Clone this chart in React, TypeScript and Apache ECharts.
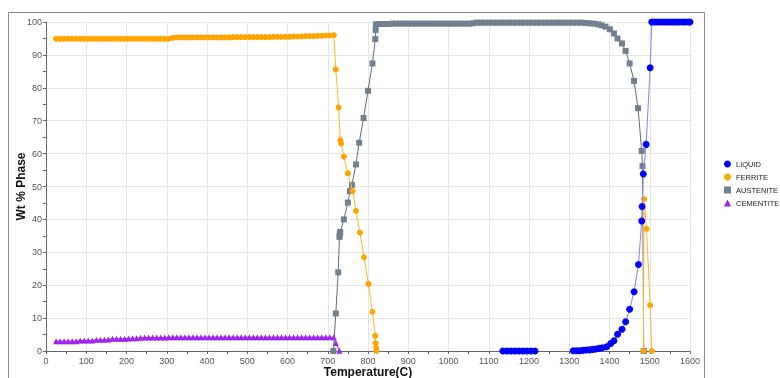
import React, { useEffect, useRef } from "react";
import * as echarts from "echarts";

const seriesNames = ["LIQUID", "FERRITE", "AUSTENITE", "CEMENTITE"];

const liquid: any[] = [
  [1135, 0], [1145, 0], [1155, 0], [1165, 0], [1175, 0], [1185, 0], [1195, 0], [1205, 0], [1215, 0],
  "-",
  [1310, 0.1], [1318, 0.1], [1326, 0.1], [1334, 0.2], [1342, 0.3], [1350, 0.4], [1358, 0.5], [1366, 0.6],
  [1374, 0.8], [1382, 1.0], [1393, 1.3], [1403, 2.3], [1411, 3.1], [1420, 5.1], [1431, 6.6], [1440, 8.9],
  [1450, 12.7], [1461, 18.0], [1472, 26.3], [1480, 39.5], [1481, 43.9], [1484, 53.8], [1491, 62.8],
  [1501, 86.1], [1505, 100], [1512, 100], [1520, 100], [1527, 100], [1535, 100], [1542, 100], [1550, 100],
  [1557, 100], [1565, 100], [1572, 100], [1580, 100], [1587, 100], [1595, 100], [1600, 100],
];

const ferrite: any[] = [
  [25, 94.9], [35, 94.9], [45, 94.9], [55, 94.9], [65, 94.9], [75, 94.9], [85, 94.9], [95, 94.9],
  [105, 94.9], [115, 94.9], [125, 94.9], [135, 94.9], [145, 94.9], [155, 94.9], [165, 94.9], [175, 94.9],
  [185, 94.9], [195, 94.9], [205, 94.9], [215, 94.9], [225, 94.9], [235, 94.9], [245, 94.9], [255, 94.9],
  [265, 94.9], [275, 94.9], [285, 94.9], [295, 94.9], [305, 94.9], [315, 95.2], [325, 95.3], [335, 95.3],
  [345, 95.3], [355, 95.3], [365, 95.3], [375, 95.3], [385, 95.3], [395, 95.3], [405, 95.3], [415, 95.3],
  [425, 95.3], [435, 95.3], [445, 95.3], [455, 95.3], [465, 95.4], [475, 95.4], [485, 95.4], [495, 95.4],
  [505, 95.4], [515, 95.4], [525, 95.4], [535, 95.4], [545, 95.4], [555, 95.4], [565, 95.5], [575, 95.5],
  [585, 95.5], [595, 95.5], [605, 95.5], [615, 95.6], [625, 95.6], [635, 95.6], [645, 95.7], [655, 95.7],
  [665, 95.7], [675, 95.8], [685, 95.8], [695, 95.9], [705, 95.9], [715, 96.0],
  [720, 85.6], [727, 74.0], [731, 64.1], [733, 63.1], [740, 59.1], [750, 54.0], [762, 48.6], [770, 42.6],
  [780, 36.0], [790, 28.5], [801, 20.4], [811, 11.9], [818, 4.6], [819, 2.4], [820, 1.0], [821, 0],
  "-",
  [1484, 0], [1486, 46.2], [1492, 37.1], [1501, 13.9], [1505, 0],
];

const austenite: any[] = [
  [714, 0], [720, 11.4], [726, 23.9], [729, 34.7], [730, 35.5], [731, 36.2], [740, 40.0], [750, 45.1],
  [755, 48.6], [760, 50.5], [770, 56.7], [778, 63.3], [789, 70.8], [800, 79.1], [811, 87.4], [818, 94.8],
  [819, 97.6], [820, 99.3], [830, 99.4], [840, 99.4], [850, 99.4], [860, 99.5], [870, 99.5], [880, 99.5],
  [890, 99.5], [900, 99.5], [910, 99.5], [920, 99.5], [930, 99.5], [940, 99.5], [950, 99.5], [960, 99.5],
  [970, 99.5], [980, 99.5], [990, 99.5], [1000, 99.5], [1010, 99.5], [1020, 99.5], [1030, 99.5], [1040, 99.5],
  [1050, 99.5], [1060, 99.6], [1070, 99.8], [1080, 99.8], [1090, 99.8], [1100, 99.8], [1110, 99.8], [1120, 99.8],
  [1130, 99.8], [1140, 99.8], [1150, 99.8], [1160, 99.8], [1170, 99.8], [1180, 99.8], [1190, 99.8], [1200, 99.8],
  [1210, 99.8], [1220, 99.8], [1230, 99.8], [1240, 99.8], [1250, 99.8], [1260, 99.8], [1270, 99.8], [1280, 99.8],
  [1290, 99.8], [1300, 99.8], [1310, 99.8], [1320, 99.8], [1330, 99.8], [1340, 99.7], [1350, 99.6], [1362, 99.5],
  [1372, 99.3], [1380, 99.0], [1390, 98.6], [1401, 97.8], [1411, 96.5], [1420, 95.0], [1431, 93.5], [1440, 91.2],
  [1450, 87.4], [1461, 82.1], [1471, 73.8], [1480, 60.8], [1482, 56.2], [1485, 0],
];

const cementite: any[] = [
  [25, 3.0], [35, 3.0], [45, 3.0], [55, 3.0], [65, 3.0], [75, 3.0], [85, 3.2], [95, 3.2],
  [105, 3.2], [115, 3.2], [125, 3.4], [135, 3.4], [145, 3.4], [155, 3.5], [165, 3.7], [175, 3.7],
  [185, 3.7], [195, 3.7], [205, 3.8], [215, 3.9], [225, 3.9], [235, 4.0], [245, 4.1], [255, 4.1],
  [265, 4.1], [275, 4.1], [285, 4.1], [295, 4.1], [305, 4.2], [315, 4.2], [325, 4.2], [335, 4.2],
  [345, 4.2], [355, 4.2], [365, 4.2], [375, 4.2], [385, 4.2], [395, 4.2], [405, 4.2], [415, 4.2],
  [425, 4.2], [435, 4.2], [445, 4.2], [455, 4.2], [465, 4.2], [475, 4.2], [485, 4.2], [495, 4.2],
  [505, 4.2], [515, 4.2], [525, 4.2], [535, 4.2], [545, 4.2], [555, 4.2], [565, 4.2], [575, 4.2],
  [585, 4.2], [595, 4.2], [605, 4.2], [615, 4.2], [625, 4.2], [635, 4.2], [645, 4.2], [655, 4.2],
  [665, 4.2], [675, 4.2], [685, 4.2], [695, 4.2], [705, 4.2], [715, 4.2],
  [720, 2.4], [729, 0.1],
];

const xMin = 0, xMax = 1600, xStep = 100;
const yMin = 0, yMax = 100, yStep = 10;

export default function App() {
  const ref = useRef<HTMLDivElement>(null);
  useEffect(() => {
    if (!ref.current) return;
    const chart = echarts.init(ref.current, undefined, { renderer: "svg" });
    const font = "Liberation Sans, Arial, sans-serif";
    const mk = (name: string, data: any[], color: string, lineColor: string, symbol: string, size: number, z: number) => ({
      name,
      type: "line",
      data,
      symbol,
      symbolSize: size,
      z,
      itemStyle: { color },
      lineStyle: { color: lineColor, width: 1 },
      connectNulls: false,
      emphasis: { disabled: true },
    });
    chart.setOption({
      animation: false,
      textStyle: { fontFamily: font },
      graphic: [
        {
          type: "rect",
          shape: { x: 8.5, y: 12.5, width: 696, height: 400 },
          style: { fill: "none", stroke: "#8a8a8a", lineWidth: 1 },
          silent: true,
        },
      ],
      grid: { left: 46, right: 90, top: 22, bottom: 27, outerBoundsMode: "none", containLabel: false },
      legend: {
        orient: "vertical",
        left: 724,
        top: 160,
        padding: 0,
        itemWidth: 7,
        itemHeight: 7,
        itemGap: 5,
        textStyle: { fontSize: 7.5, color: "#222", fontFamily: font },
        data: [
          { name: "LIQUID", icon: "circle", itemStyle: { color: "#0000FF" } },
          { name: "FERRITE", icon: "circle", itemStyle: { color: "#FFA500" } },
          { name: "AUSTENITE", icon: "rect", itemStyle: { color: "#708090" } },
          { name: "CEMENTITE", icon: "triangle", itemStyle: { color: "#A020F0" } },
        ],
      },
      xAxis: {
        type: "value",
        min: xMin,
        max: xMax,
        interval: xStep,
        name: "Temperature(C)",
        nameLocation: "middle",
        nameGap: 15,
        nameMoveOverlap: false,
        nameTextStyle: { fontSize: 12, fontWeight: "bold", color: "#111", fontFamily: font, verticalAlign: "top" },
        axisLine: { lineStyle: { color: "#666", width: 1 } },
        axisTick: { show: true, length: 3, lineStyle: { color: "#666" } },
        minorTick: { show: true, splitNumber: 2, length: 3, lineStyle: { color: "#666" } },
        axisLabel: { fontSize: 9, color: "#555", margin: 5, fontFamily: font, formatter: (v: number) => String(v) },
        splitLine: { show: true, lineStyle: { color: "#e6e6e6", width: 1 } },
      },
      yAxis: {
        type: "value",
        min: yMin,
        max: yMax,
        interval: yStep,
        name: "Wt % Phase",
        nameLocation: "middle",
        nameGap: 19,
        nameMoveOverlap: false,
        nameTextStyle: { fontSize: 12, fontWeight: "bold", color: "#111", fontFamily: font },
        axisLine: { show: true, lineStyle: { color: "#666", width: 1 } },
        axisTick: { show: true, length: 3, lineStyle: { color: "#666" } },
        minorTick: { show: true, splitNumber: 2, length: 3, lineStyle: { color: "#666" } },
        axisLabel: { fontSize: 9, color: "#555", margin: 4, fontFamily: font, formatter: (v: number) => String(v) },
        splitLine: { show: true, lineStyle: { color: "#e6e6e6", width: 1 } },
      },
      series: [
        mk(seriesNames[0], liquid, "#0000FF", "#8080ff", "circle", 7, 4),
        mk(seriesNames[1], ferrite, "#FFA500", "#FFB733", "circle", 6, 3),
        mk(seriesNames[2], austenite, "#708090", "#5f6f7f", "rect", 6, 2),
        mk(seriesNames[3], cementite, "#A020F0", "#A020F0", "triangle", 6, 1),
      ],
    });
    return () => chart.dispose();
  }, []);
  return <div ref={ref} style={{ position: "fixed", left: 0, top: 0, width: 780, height: 378 }} />;
}
